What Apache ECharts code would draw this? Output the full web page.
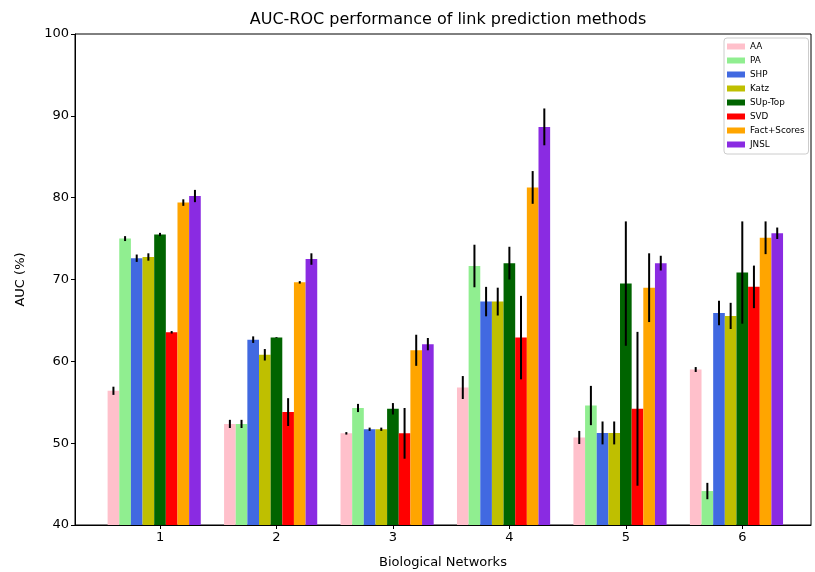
<!DOCTYPE html>
<html>
<head>
<meta charset="utf-8">
<script src="https://cdn.jsdelivr.net/npm/echarts@6/dist/echarts.min.js"></script>
<style>html,body{margin:0;padding:0;background:#fff}#c{width:815px;height:572px}</style>
</head>
<body>
<div id="c"></div>
<script>
// Network ids (x positions)
var categories = [1, 2, 3, 4, 5, 6];
var methods = ['AA', 'PA', 'SHP', 'Katz', 'SUp-Top', 'SVD', 'Fact+Scores', 'JNSL'];
var colors = ['#FFC0CB', '#90EE90', '#4169E1', '#BFBF00', '#006400', '#FF0000', '#FFA500', '#8A2BE2'];

// AUC means
var AA        = [56.4, 52.35, 51.2, 56.8, 50.7, 59.0];
var PA        = [75.0, 52.35, 54.3, 71.65, 54.6, 44.15];
var SHP       = [72.6, 62.65, 51.7, 67.3, 51.25, 65.9];
var Katz      = [72.75, 60.8, 51.7, 67.3, 51.25, 65.55];
var SUpTop    = [75.5, 62.9, 54.2, 72.0, 69.5, 70.85];
var SVD       = [63.55, 53.8, 51.2, 62.9, 54.2, 69.1];
var FactScore = [79.4, 69.65, 61.35, 81.25, 69.0, 75.1];
var JNSL      = [80.2, 72.5, 62.1, 88.65, 72.0, 75.65];

// error (half-length)
var AA_err        = [0.5, 0.5, 0.15, 1.4, 0.8, 0.3];
var PA_err        = [0.3, 0.5, 0.5, 2.6, 2.4, 1.0];
var SHP_err       = [0.45, 0.4, 0.2, 1.8, 1.4, 1.5];
var Katz_err      = [0.45, 0.7, 0.2, 1.7, 1.4, 1.6];
var SUpTop_err    = [0.2, 0.05, 0.7, 2.0, 7.6, 6.25];
var SVD_err       = [0.15, 1.7, 3.1, 5.1, 9.4, 2.6];
var FactScore_err = [0.4, 0.15, 1.9, 2.0, 4.2, 2.0];
var JNSL_err      = [0.75, 0.7, 0.75, 2.25, 0.9, 0.7];

var yTicks = [40, 50, 60, 70, 80, 90, 100];

var means = [AA, PA, SHP, Katz, SUpTop, SVD, FactScore, JNSL];
var errs = [AA_err, PA_err, SHP_err, Katz_err, SUpTop_err, SVD_err, FactScore_err, JNSL_err];

var BAR_W = 0.1;
var FONT = 'DejaVu Sans';

function makeSeries(i) {
  var data = categories.map(function (c, k) { return [c, means[i][k], errs[i][k]]; });
  return {
    name: methods[i],
    type: 'custom',
    itemStyle: { color: colors[i] },
    data: data,
    encode: { x: 0, y: 1 },
    renderItem: function (params, api) {
      var xc = api.value(0) + (i - 4) * BAR_W;
      var v = api.value(1);
      var e = api.value(2);
      var top = api.coord([xc, v]);
      var base = api.coord([xc, 40]);
      var w = api.size([BAR_W, 0])[0];
      var lo = api.coord([xc, v - e]);
      var hi = api.coord([xc, v + e]);
      return {
        type: 'group',
        children: [
          { type: 'rect', shape: { x: top[0] - w / 2, y: top[1], width: w, height: base[1] - top[1] },
            style: { fill: colors[i] } },
          { type: 'line', z2: 10, shape: { x1: top[0], y1: lo[1], x2: top[0], y2: hi[1] },
            style: { stroke: '#000', lineWidth: 2 } }
        ]
      };
    }
  };
}

var chart = echarts.init(document.getElementById('c'), null, { renderer: 'canvas' });
chart.setOption({
  backgroundColor: '#fff',
  animation: false,
  textStyle: { fontFamily: FONT },
  title: {
    text: 'AUC-ROC performance of link prediction methods',
    left: 443, top: 7, textAlign: 'center',
    textStyle: { fontFamily: FONT, fontSize: 16, fontWeight: 'normal', color: '#000' }
  },
  legend: {
    orient: 'vertical',
    left: 724, top: 38,
    itemWidth: 18, itemHeight: 6, itemGap: 5,
    icon: 'rect',
    padding: [4, 4, 5, 3],
    borderColor: '#ccc', borderWidth: 1, borderRadius: 3,
    backgroundColor: '#fff',
    textStyle: { fontFamily: FONT, fontSize: 8.8, color: '#000' },
    data: methods
  },
  grid: {
    left: 75, right: 4, top: 34, bottom: 47,
    outerBoundsMode: 'none',
    containLabel: false,
    show: true, borderColor: '#000', borderWidth: 1
  },
  xAxis: {
    type: 'value',
    min: 0.27, max: 6.59,
    name: 'Biological Networks',
    nameLocation: 'middle', nameGap: 31,
    nameTextStyle: { fontFamily: FONT, fontSize: 13, color: '#000' },
    axisLine: { show: true, lineStyle: { color: '#000', width: 1 } },
    axisTick: { show: true, inside: false, length: 4, lineStyle: { color: '#000' }, customValues: categories },
    axisLabel: { fontFamily: FONT, fontSize: 13, color: '#000', margin: 6, customValues: categories,
      formatter: function (v) { return String(v); } },
    splitLine: { show: false }
  },
  yAxis: {
    type: 'value',
    min: 40, max: 100, interval: 10,
    name: 'AUC (%)',
    nameLocation: 'middle', nameGap: 48,
    nameTextStyle: { fontFamily: FONT, fontSize: 13, color: '#000' },
    axisLine: { show: true, lineStyle: { color: '#000', width: 1 } },
    axisTick: { show: true, inside: false, length: 4, lineStyle: { color: '#000' } },
    axisLabel: { fontFamily: FONT, fontSize: 13, color: '#000', margin: 6,
      formatter: function (v) { return yTicks.indexOf(v) >= 0 ? String(v) : ''; } },
    splitLine: { show: false }
  },
  series: methods.map(function (m, i) { return makeSeries(i); })
});
</script>
</body>
</html>
